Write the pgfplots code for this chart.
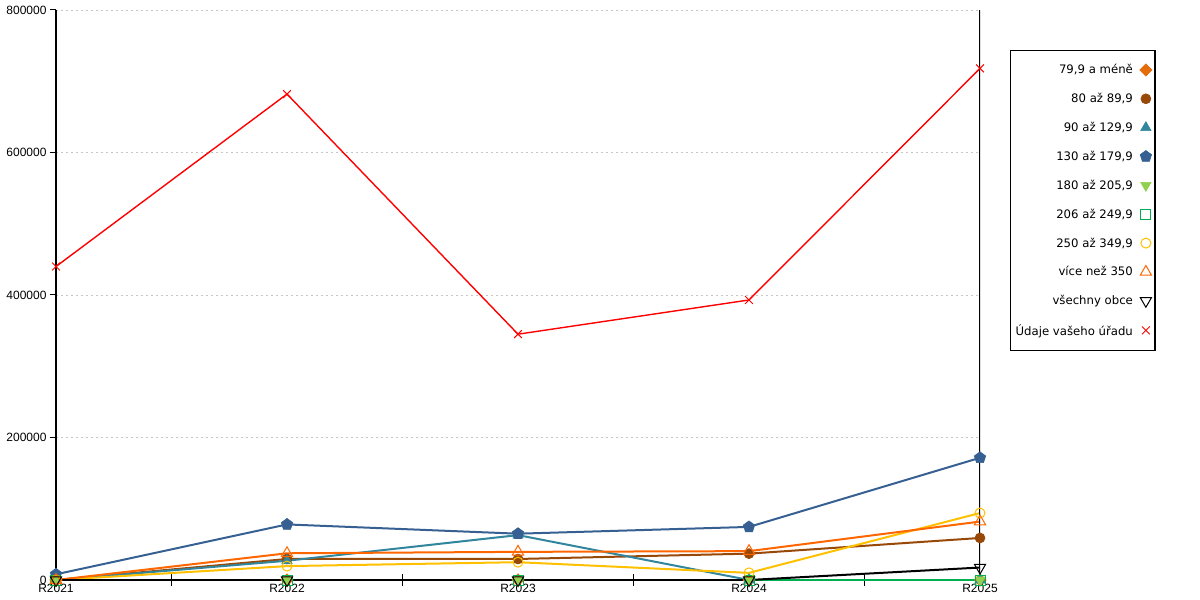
\documentclass[border=0pt]{standalone}
\usepackage{fontspec}
\setmainfont{Liberation Sans}
\newfontfamily\legfont{DejaVu Sans}
\usepackage{pgfplots}
\pgfplotsset{compat=1.18}
\definecolor{cA}{HTML}{E46C0A}
\definecolor{cB}{HTML}{984807}
\definecolor{cC}{HTML}{31859C}
\definecolor{cD}{HTML}{376092}
\definecolor{cE}{HTML}{92D050}
\definecolor{cF}{HTML}{00B050}
\definecolor{cG}{HTML}{FFC000}
\definecolor{cH}{HTML}{FF6600}
\definecolor{cJ}{HTML}{000000}
\definecolor{cK}{HTML}{FF0000}
\begin{document}
\begin{tikzpicture}
\useasboundingbox (-56pt,-20pt) rectangle (1144pt,580pt);
\begin{axis}[
  at={(0pt,0pt)}, anchor=south west,
  scale only axis, width=924pt, height=570pt,
  xmin=0, xmax=4, ymin=0, ymax=800000,
  axis x line*=bottom, axis y line*=left,
  axis line style={line width=1.2pt},
  xtick={0,1,2,3,4},
  xticklabels={R2021,R2022,R2023,R2024,R2025},
  xticklabel style={font=\fontsize{12}{14}\selectfont, yshift=2pt},
  minor x tick num=1,
  major x tick style={draw=none},
  minor x tick style={line width=1pt, black},
  minor tick length=12pt,
  xtick align=center,
  ytick={0,200000,400000,600000,800000},
  yticklabels={0,200000,400000,600000,800000},
  yticklabel style={font=\fontsize{12}{14}\selectfont},
  y tick style={line width=1pt, black},
  ytick align=outside, major tick length=6pt,
  ymajorgrids,
  grid style={gray!45, line width=0.7pt, dash pattern=on 2pt off 3pt},
  legend plot pos=right,
  legend cell align=right,
  legend image code/.code={\path (0pt,0pt) (4pt,0pt); \draw[#1,only marks] plot coordinates {(10pt,0pt)};},
  legend style={at={(1.0325,0.93)}, anchor=north west, draw=black, line width=1.2pt,
    font=\legfont\fontsize{11.7}{14}\selectfont, row sep=14pt, inner xsep=3pt, inner ysep=12pt,
    nodes={inner sep=2pt}},
]
\addplot[color=cA, line width=2pt, mark=square*, mark size=4.3pt, mark options={line width=0.6pt, fill=cA, rotate=45}] coordinates {(0,0)(1,0)(2,0)(3,0)(4,0)};
\addlegendentry{79,9 a méně}
\addplot[color=cB, line width=2pt, mark=*, mark size=5pt, mark options={line width=0.6pt, fill=cB}] coordinates {(0,0)(1,29500)(2,29500)(3,37000)(4,59000)};
\addlegendentry{80 až 89,9}
\addplot[color=cC, line width=2pt, mark=triangle*, mark size=6pt, mark options={line width=0.6pt, fill=cC}] coordinates {(0,0)(1,27000)(2,63000)(3,0)(4,0)};
\addlegendentry{90 až 129,9}
\addplot[color=cD, line width=2pt, mark=pentagon*, mark size=6pt, mark options={line width=0.6pt, fill=cD}] coordinates {(0,8000)(1,78000)(2,65000)(3,74500)(4,171500)};
\addlegendentry{130 až 179,9}
\addplot[color=cE, line width=2pt, mark=triangle*, mark size=6pt, mark options={line width=0.6pt, fill=cE, rotate=180}] coordinates {(0,0)(1,0)(2,0)(3,0)(4,0)};
\addlegendentry{180 až 205,9}
\addplot[color=cF, line width=2pt, mark=square, mark size=5pt, mark options={line width=1pt}] coordinates {(0,0)(1,0)(2,0)(3,0)(4,0)};
\addlegendentry{206 až 249,9}
\addplot[color=cG, line width=2pt, mark=o, mark size=5pt, mark options={line width=1pt}] coordinates {(0,0)(1,19500)(2,25000)(3,10000)(4,94000)};
\addlegendentry{250 až 349,9}
\addplot[color=cH, line width=2pt, mark=triangle, mark size=6.5pt, mark options={line width=1pt}] coordinates {(0,0)(1,37500)(2,39500)(3,40500)(4,82000)};
\addlegendentry{více než 350}
\addplot[color=cJ, line width=2pt, mark=triangle, mark size=6.5pt, mark options={line width=1pt, rotate=180}] coordinates {(0,0)(1,0)(2,0)(3,0)(4,17500)};
\addlegendentry{všechny obce}
\addplot[color=cK, line width=1.4pt, mark=x, mark size=5.5pt, mark options={line width=1pt}] coordinates {(0,440000)(1,682000)(2,345000)(3,393000)(4,718000)};
\addlegendentry{Údaje vašeho úřadu}
\draw[black, line width=1.2pt] (rel axis cs:1,0) -- (rel axis cs:1,1);
\end{axis}
\end{tikzpicture}
\end{document}
